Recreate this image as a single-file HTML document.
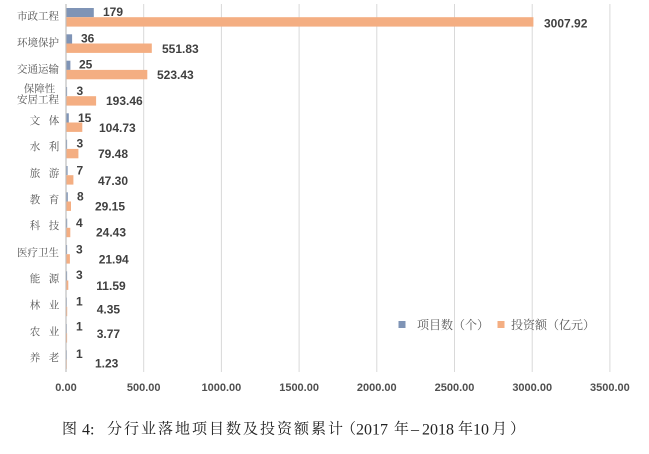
<!DOCTYPE html>
<html><head><meta charset="utf-8"><style>
html,body{margin:0;padding:0;background:#fff;}
svg{display:block;}
.v{font-family:"Liberation Sans",sans-serif;font-weight:bold;font-size:12px;fill:#404040;dominant-baseline:central;}
.t{font-family:"Liberation Sans",sans-serif;font-weight:bold;font-size:11px;fill:#505050;dominant-baseline:central;text-anchor:middle;}
.c{font-family:"Liberation Serif","Noto Serif CJK SC",serif;font-size:10.5px;fill:#555;dominant-baseline:central;}
.r{text-anchor:end;}
.m{text-anchor:middle;}
.lg{font-family:"Liberation Serif","Noto Serif CJK SC",serif;font-size:12px;fill:#595959;dominant-baseline:central;}
.cap{font-family:"Liberation Serif","Noto Serif CJK SC",serif;font-size:15px;fill:#222;dominant-baseline:central;}
.d{font-size:16px;}
</style></head><body>
<svg width="649" height="454" viewBox="0 0 649 454" xmlns="http://www.w3.org/2000/svg">
<rect width="649" height="454" fill="#fff"/>
<g stroke="#d9d9d9" stroke-width="1">
<line x1="143.7" y1="4" x2="143.7" y2="372"/>
<line x1="221.4" y1="4" x2="221.4" y2="372"/>
<line x1="299.1" y1="4" x2="299.1" y2="372"/>
<line x1="376.8" y1="4" x2="376.8" y2="372"/>
<line x1="454.5" y1="4" x2="454.5" y2="372"/>
<line x1="532.2" y1="4" x2="532.2" y2="372"/>
<line x1="609.9" y1="4" x2="609.9" y2="372"/>
</g>
<line x1="66" y1="4" x2="66" y2="372" stroke="#bfbfbf" stroke-width="1.2"/>
<g fill="#7f94b6">
<rect x="66.5" y="8" width="27.3" height="9.2"/>
<rect x="66.5" y="34.3" width="5.6" height="9.2"/>
<rect x="66.5" y="60.7" width="3.9" height="9.2"/>
<rect x="66.5" y="87" width="0.6" height="9.2"/>
<rect x="66.5" y="113.3" width="2.3" height="9.2"/>
<rect x="66.5" y="139.7" width="0.6" height="9.2"/>
<rect x="66.5" y="166" width="1.1" height="9.2"/>
<rect x="66.5" y="192.3" width="1.3" height="9.2"/>
<rect x="66.5" y="218.6" width="0.7" height="9.2"/>
<rect x="66.5" y="245" width="0.6" height="9.2"/>
<rect x="66.5" y="271.3" width="0.6" height="9.2"/>
<rect x="66.5" y="297.6" width="0.3" height="9.2"/>
<rect x="66.5" y="324" width="0.3" height="9.2"/>
<rect x="66.5" y="350.3" width="0.3" height="9.2"/>
</g>
<g fill="#f4ae82">
<rect x="66.5" y="17.2" width="466.9" height="9.4"/>
<rect x="66.5" y="43.5" width="85.3" height="9.4"/>
<rect x="66.5" y="69.9" width="80.8" height="9.4"/>
<rect x="66.5" y="96.2" width="29.6" height="9.4"/>
<rect x="66.5" y="122.5" width="15.8" height="9.4"/>
<rect x="66.5" y="148.9" width="11.9" height="9.4"/>
<rect x="66.5" y="175.2" width="6.9" height="9.4"/>
<rect x="66.5" y="201.5" width="4.5" height="9.4"/>
<rect x="66.5" y="227.8" width="3.8" height="9.4"/>
<rect x="66.5" y="254.2" width="3.4" height="9.4"/>
<rect x="66.5" y="280.5" width="1.8" height="9.4"/>
<rect x="66.5" y="306.8" width="0.7" height="9.4"/>
<rect x="66.5" y="333.2" width="0.6" height="9.4"/>
<rect x="66.5" y="359.5" width="0.3" height="9.4"/>
</g>
<text class="v" x="103" y="12">179</text>
<text class="v" x="81" y="38.5">36</text>
<text class="v" x="79" y="64.5">25</text>
<text class="v" x="76.5" y="91">3</text>
<text class="v" x="78" y="118">15</text>
<text class="v" x="76.5" y="143.5">3</text>
<text class="v" x="76.5" y="170.5">7</text>
<text class="v" x="77" y="196.5">8</text>
<text class="v" x="76" y="223">4</text>
<text class="v" x="76" y="249.3">3</text>
<text class="v" x="76" y="275">3</text>
<text class="v" x="76" y="301.7">1</text>
<text class="v" x="76" y="326.7">1</text>
<text class="v" x="76" y="354">1</text>
<text class="v" x="544" y="23.5">3007.92</text>
<text class="v" x="162" y="49">551.83</text>
<text class="v" x="157" y="75">523.43</text>
<text class="v" x="106" y="101">193.46</text>
<text class="v" x="99" y="128">104.73</text>
<text class="v" x="98" y="154">79.48</text>
<text class="v" x="98" y="181">47.30</text>
<text class="v" x="95" y="206.5">29.15</text>
<text class="v" x="96" y="232.7">24.43</text>
<text class="v" x="98.7" y="259.3">21.94</text>
<text class="v" x="96.3" y="286">11.59</text>
<text class="v" x="96.7" y="309.3">4.35</text>
<text class="v" x="96.7" y="334">3.77</text>
<text class="v" x="95" y="363.3">1.23</text>
<text class="c r" x="59" y="17">市政工程</text>
<text class="c r" x="59" y="43.5">环境保护</text>
<text class="c r" x="59" y="70">交通运输</text>
<text class="c m" x="39.5" y="89.3">保障性</text>
<text class="c r" x="59" y="100.7">安居工程</text>
<text class="c m" x="35" y="121.7">文</text><text class="c m" x="54" y="121.7">体</text>
<text class="c m" x="35" y="147.7">水</text><text class="c m" x="54" y="147.7">利</text>
<text class="c m" x="35" y="174">旅</text><text class="c m" x="54" y="174">游</text>
<text class="c m" x="35" y="200.3">教</text><text class="c m" x="54" y="200.3">育</text>
<text class="c m" x="35" y="226.7">科</text><text class="c m" x="54" y="226.7">技</text>
<text class="c r" x="59" y="253.3">医疗卫生</text>
<text class="c m" x="35" y="279.3">能</text><text class="c m" x="54" y="279.3">源</text>
<text class="c m" x="35" y="306">林</text><text class="c m" x="54" y="306">业</text>
<text class="c m" x="35" y="332.7">农</text><text class="c m" x="54" y="332.7">业</text>
<text class="c m" x="35" y="358.3">养</text><text class="c m" x="54" y="358.3">老</text>
<text class="t" x="66" y="388">0.00</text>
<text class="t" x="143.7" y="388">500.00</text>
<text class="t" x="221.4" y="388">1000.00</text>
<text class="t" x="299.1" y="388">1500.00</text>
<text class="t" x="376.8" y="388">2000.00</text>
<text class="t" x="454.5" y="388">2500.00</text>
<text class="t" x="532.2" y="388">3000.00</text>
<text class="t" x="609.9" y="388">3500.00</text>
<rect x="398.5" y="321" width="7" height="7" fill="#7f94b6"/>
<text class="lg" x="417" y="325">项目数（个）</text>
<rect x="497.5" y="321" width="7" height="7" fill="#f4ae82"/>
<text class="lg" x="511" y="325">投资额（亿元）</text>
<text class="cap" y="429.5"><tspan x="62">图</tspan><tspan x="82" class="d">4:</tspan><tspan x="107" letter-spacing="2">分行业落地项目数及投资额累计</tspan><tspan x="341">（</tspan><tspan x="356" class="d">2017</tspan><tspan x="394">年</tspan><tspan x="411" class="d">–</tspan><tspan x="422" class="d">2018</tspan><tspan x="458">年</tspan><tspan x="473" class="d">10</tspan><tspan x="492">月</tspan><tspan x="510">）</tspan></text>
</svg>
</body></html>
